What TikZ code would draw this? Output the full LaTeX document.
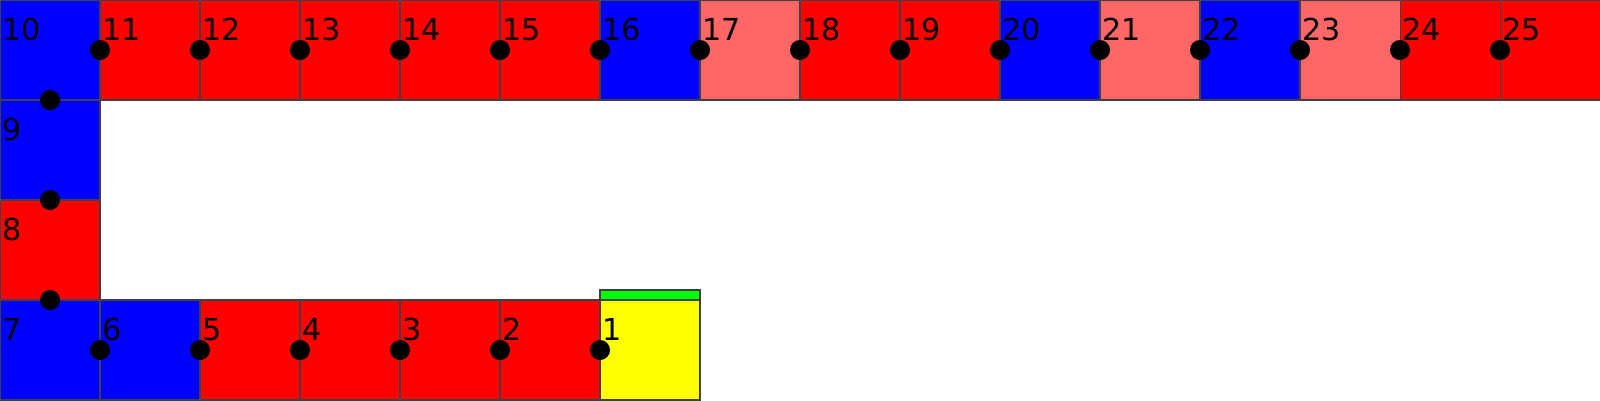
\documentclass[tikz,border=0pt]{standalone}
\usepackage{fontspec}
\setmainfont{DejaVu Sans}
\usetikzlibrary{positioning,calc}

\definecolor{pale}{HTML}{FF6666}
\definecolor{lime}{HTML}{00FF00}
\definecolor{lemon}{HTML}{FFFF00}

\tikzset{
  cell/.style={draw=black!75, line width=0.3pt, minimum size=1cm, inner sep=0, outer sep=0},
  num/.style={anchor=base west, inner sep=0, outer sep=0, font=\fontsize{8.6}{10}\selectfont},
  spot/.style={circle, fill=black, minimum size=0.2cm, inner sep=0},
}

\begin{document}
\begin{tikzpicture}
\useasboundingbox (0, 0) rectangle (16, 4);

% top row, 10 .. 25
\foreach \i/\col in {10/blue, 11/red, 12/red, 13/red, 14/red, 15/red, 16/blue, 17/pale,
    18/red, 19/red, 20/blue, 21/pale, 22/blue, 23/pale, 24/red, 25/red}
  \node[cell, fill=\col] (c\i) at (\i - 9.5, 3.5) {};

% left column, 9 .. 8
\node[cell, fill=blue, below=0cm of c10] (c9) {};
\node[cell, fill=red, below=0cm of c9] (c8) {};

% bottom row, 7 .. 1
\foreach \i/\col in {7/blue, 6/blue, 5/red, 4/red, 3/red, 2/red, 1/lemon}
  \node[cell, fill=\col] (c\i) at (7.5 - \i, 0.5) {};

\draw[draw=black!75, line width=0.3pt, fill=lime] (c1.north west) rectangle ++(1cm, 0.1cm);

% numbers
\foreach \i in {1,...,25}
  \node[num] (n\i) at ($ (c\i.north west) + (0.02cm, -0.4cm) $) {\i};

% spots between neighbours
\foreach \i in {10,...,24}
  \node[spot] (s\i) at (c\i.east) {};
\foreach \i in {8,9,10}
  \node[spot] (d\i) at (c\i.south) {};
\foreach \i in {2,...,7}
  \node[spot] (s\i) at (c\i.east) {};

\end{tikzpicture}
\end{document}
